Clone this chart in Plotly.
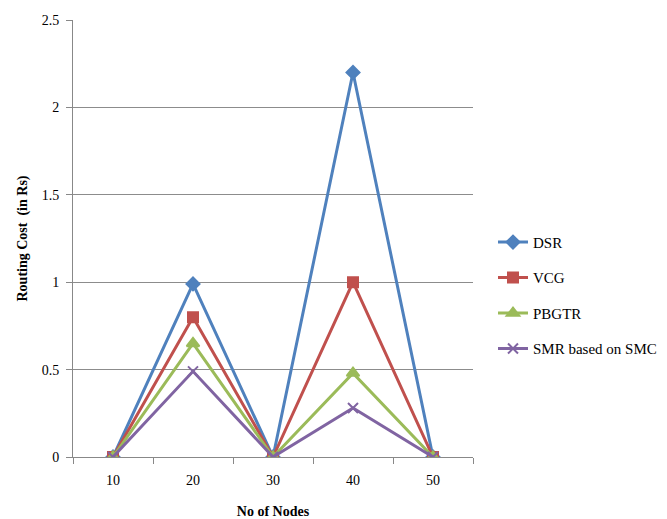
import plotly.graph_objects as go

nodes = [10, 20, 30, 40, 50]
dsr = [0, 0.99, 0, 2.2, 0]
vcg = [0, 0.8, 0, 1.0, 0]
pbgtr = [0, 0.65, 0, 0.48, 0]
smr = [0, 0.49, 0, 0.28, 0]
y_ticks = [0, 0.5, 1, 1.5, 2, 2.5]
y_tick_text = ["0", "0.5", "1", "1.5", "2", "2.5"]

series = [
    ("DSR", dsr, "#4F81BD", "diamond", 10),
    ("VCG", vcg, "#C0504D", "square", 10),
    ("PBGTR", pbgtr, "#9BBB59", "triangle-up", 11),
    ("SMR based on SMC", smr, "#8064A2", "x-thin-open", 10),
]

fig = go.Figure()
for i, (name, vals, col, sym, sz) in enumerate(series):
    fig.add_trace(go.Scatter(
        x=nodes, y=vals, name=name, mode="lines+markers",
        legendgroup=f"g{i}",
        line=dict(color=col, width=3),
        marker=dict(symbol=sym, size=sz, color=col,
                    line=dict(color=col, width=2)),
    ))

fig.update_layout(
    width=667, height=519,
    margin=dict(l=73, r=194, t=20, b=62, autoexpand=False),
    paper_bgcolor="white", plot_bgcolor="white",
    font=dict(family="Liberation Serif", size=14, color="black"),
    showlegend=True,
    legend=dict(x=1.05, y=0.37, xanchor="left", yanchor="middle",
                tracegroupgap=13, font=dict(size=15, family="Liberation Serif"),
                bgcolor="rgba(0,0,0,0)"),
    xaxis=dict(
        range=[5, 55], tickvals=nodes, ticktext=[str(n) for n in nodes],
        showgrid=False, zeroline=False, showline=True, linecolor="#888",
        linewidth=1, ticks="", ticklabelstandoff=10, automargin=False,
        minor=dict(tickvals=[5, 15, 25, 35, 45, 55], ticks="outside",
                   ticklen=6, tickcolor="#888", showgrid=False),
        title=dict(text="<b>No of Nodes</b>", font=dict(size=14), standoff=22),
        tickfont=dict(size=14),
    ),
    yaxis=dict(
        range=[0, 2.5], tickvals=y_ticks, ticktext=y_tick_text,
        showgrid=True, gridcolor="#8c8c8c", gridwidth=1,
        zeroline=False, showline=True, linecolor="#888", linewidth=1,
        ticks="outside", ticklen=6, tickcolor="#888", ticklabelstandoff=4,
        automargin=False,
        title=dict(text="<b>Routing Cost  (in Rs)</b>", font=dict(size=14), standoff=10),
        tickfont=dict(size=14),
    ),
)

fig.write_html("out.html")
